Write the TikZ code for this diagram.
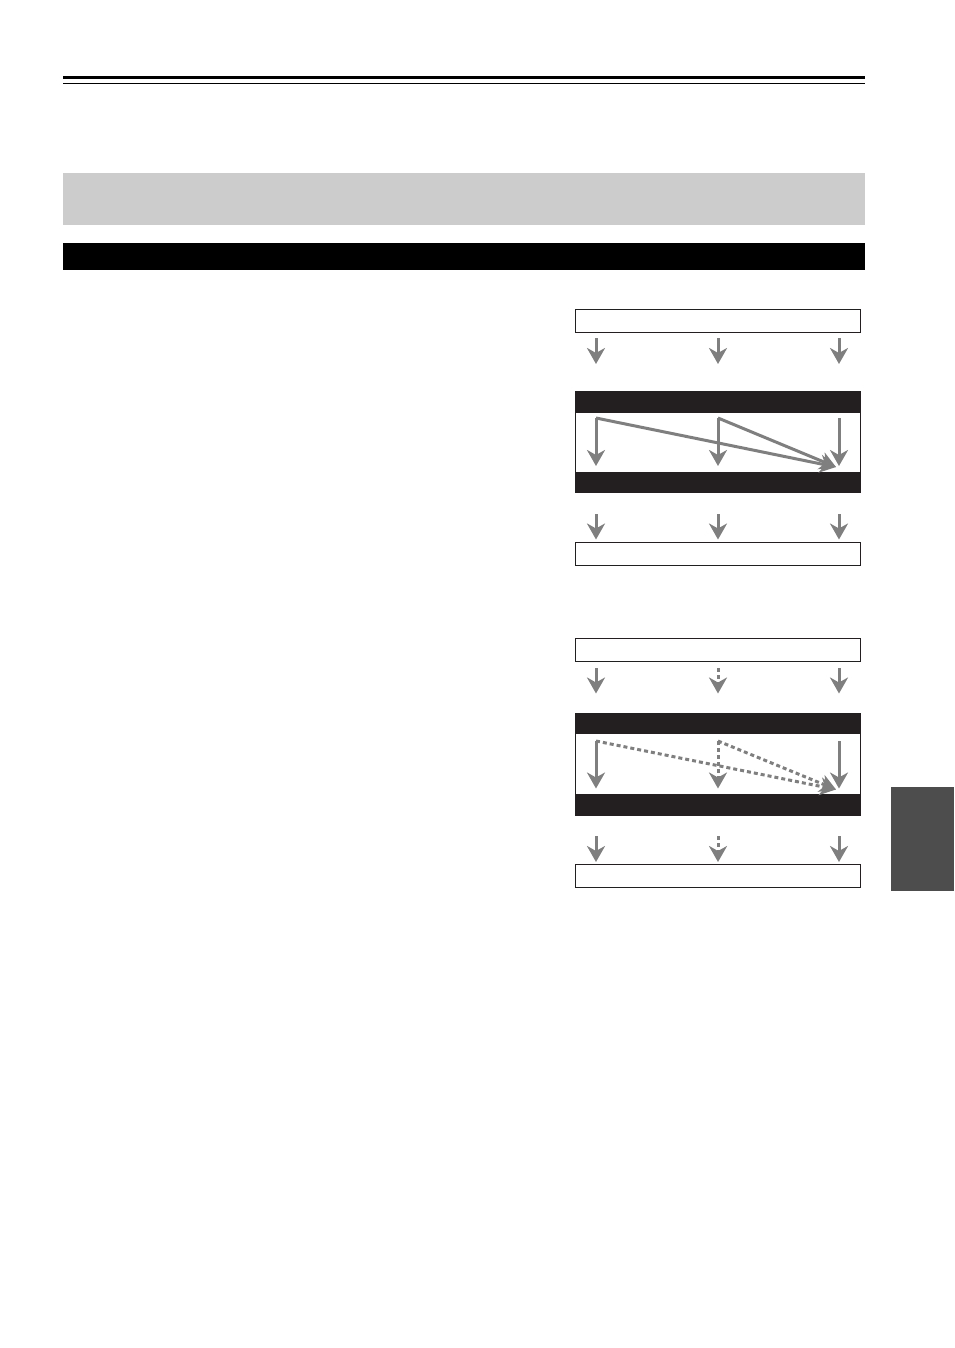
\documentclass[tikz,border=0pt]{standalone}
\usetikzlibrary{arrows.meta}
\definecolor{bandblack}{HTML}{231F20}
\definecolor{flowgrey}{HTML}{7F7F7F}
\definecolor{tabgrey}{HTML}{4D4D4D}
\definecolor{headgrey}{HTML}{CCCCCC}
\tikzset{
  flow/.style={draw=flowgrey, line width=3pt, -{Stealth[length=16pt,width=18pt,inset=5pt]}},
  dotflow/.style={flow, dash pattern=on 4pt off 3pt},
  panel/.style={draw=bandblack, line width=1pt, minimum width=285pt, minimum height=23pt},
  band/.style={fill=bandblack, minimum width=286pt, minimum height=21pt},
}

\begin{document}
\begin{tikzpicture}[x=1pt,y=1pt]
\tikzstyle{every node}+=[inner sep=0pt, outer sep=0pt]
\useasboundingbox (0,0) rectangle (954,-1348);
% page head and side tab
\draw [black, line width=3pt] (63,-77.2) -- (864.5,-77.2);
\draw [black, line width=1pt] (63,-83.3) -- (864.5,-83.3);
\fill [headgrey] (63,-173) rectangle (864.5,-225);
\fill [black] (63,-243) rectangle (864.5,-270);
\fill [tabgrey] (891,-786.7) rectangle (954,-891);

% first chart
\node [panel] (srcA) at (718,-321.3) {};
\node [panel, minimum height=101pt] (procA) at (718,-442.2) {};
\node [band, anchor=north] (procAtop) at (procA.north) {};
\node [band, anchor=south] (procAbot) at (procA.south) {};
\node [panel] (outA) at (718,-554) {};
\foreach \c/\x in {1/596,2/718,3/839} {
  \coordinate (A\c-1) at (\x,-338);
  \coordinate (A\c-2) at (\x,-364);
  \coordinate (A\c-3) at (\x,-418);
  \coordinate (A\c-4) at (\x,-466);
  \coordinate (A\c-5) at (\x,-514);
  \coordinate (A\c-6) at (\x,-539.5);
}
\coordinate (A-tip) at (836,-467);
\foreach \c in {1,2,3} {
  \draw [flow] (A\c-1) -- (A\c-2);
  \draw [flow] (A\c-3) -- (A\c-4);
  \draw [flow] (A\c-5) -- (A\c-6);
}
\draw [flow] (A1-3) -- (A-tip);
\draw [flow] (A2-3) -- (A-tip);

% second chart
\node [panel] (srcB) at (718,-650.3) {};
\node [panel, minimum height=102pt] (procB) at (718,-764.2) {};
\node [band, anchor=north] (procBtop) at (procB.north) {};
\node [band, anchor=south] (procBbot) at (procB.south) {};
\node [panel] (outB) at (718,-876.3) {};
\foreach \c/\x in {1/596,2/718,3/839} {
  \coordinate (B\c-1) at (\x,-668);
  \coordinate (B\c-2) at (\x,-693.5);
  \coordinate (B\c-3) at (\x,-741);
  \coordinate (B\c-4) at (\x,-788.5);
  \coordinate (B\c-5) at (\x,-836);
  \coordinate (B\c-6) at (\x,-862);
}
\coordinate (B-tip) at (836,-789.5);
\foreach \c in {1,3} {
  \draw [flow] (B\c-1) -- (B\c-2);
  \draw [flow] (B\c-3) -- (B\c-4);
  \draw [flow] (B\c-5) -- (B\c-6);
}
\draw [dotflow] (B2-1) -- (B2-2);
\draw [dotflow] (B2-3) -- (B2-4);
\draw [dotflow] (B2-5) -- (B2-6);
\draw [dotflow] (B1-3) -- (B-tip);
\draw [dotflow] (B2-3) -- (B-tip);
\end{tikzpicture}
\end{document}
